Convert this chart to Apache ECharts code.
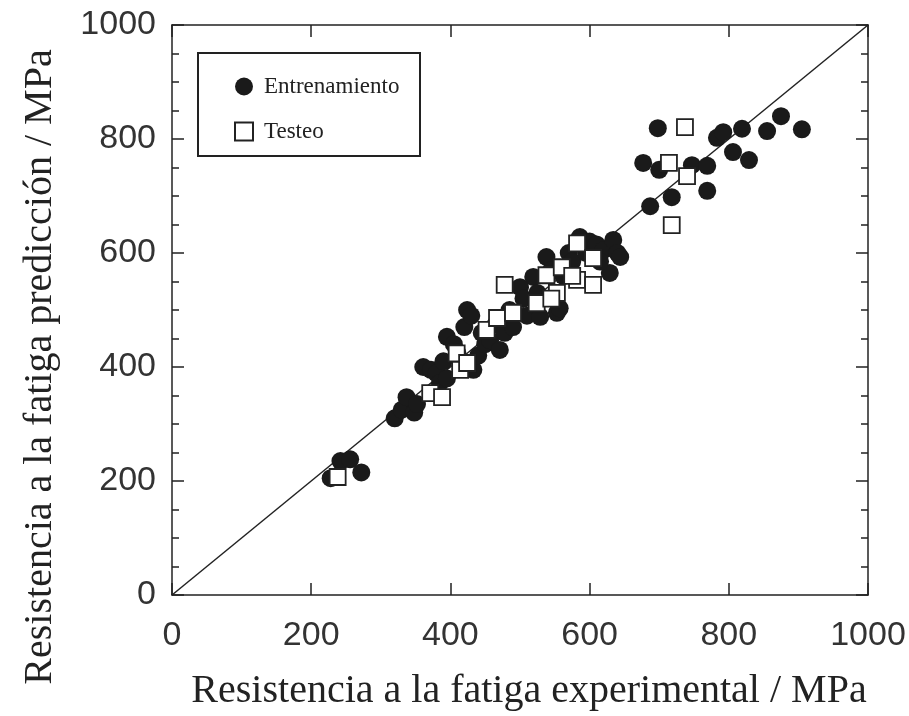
<!DOCTYPE html>
<html>
<head>
<meta charset="utf-8">
<script src="https://cdn.jsdelivr.net/npm/echarts@6/dist/echarts.min.js"></script>
<style>
  html, body { margin: 0; padding: 0; background: #fff; }
  #chart { width: 909px; height: 716px; }
</style>
</head>
<body>
<div id="chart"></div>
<script>
// puntos de entrenamiento [experimental, predicción]
const entrenamiento = [
  [228, 205], [242, 235], [256, 238], [272, 215],
  [320, 310], [330, 325], [337, 347], [348, 320], [352, 335],
  [361, 400], [372, 395], [380, 389], [385, 372], [395, 380], [390, 410],
  [395, 453], [405, 440], [410, 425], [420, 470], [424, 500], [430, 490], [433, 395], [440, 420], [445, 460],
  [450, 440], [457, 447], [465, 475], [471, 430], [478, 460], [485, 500], [490, 470], [500, 540], [505, 520],
  [510, 490], [519, 558], [525, 530], [529, 488],
  [538, 593], [545, 570], [553, 495], [557, 503], [562, 560], [570, 600], [575, 585], [586, 628], [595, 600],
  [600, 620], [610, 615], [620, 605], [629, 565], [634, 623], [640, 600], [644, 593], [615, 585],
  [677, 758], [687, 682], [698, 819], [700, 746], [718, 698], [747, 754], [769, 753], [769, 709],
  [783, 802], [792, 812], [806, 777], [819, 818], [829, 763], [855, 814], [875, 840], [905, 817]
]
// puntos de testeo
const testeo = [
  [238, 207], [371, 354], [388, 347], [409, 424], [414, 395], [424, 407], [452, 465], [467, 486],
  [478, 544], [490, 495], [524, 512], [538, 561], [553, 530], [560, 575], [582, 617], [582, 553],
  [605, 591], [605, 544], [575, 560], [545, 520], [714, 758], [737, 821], [740, 735], [718, 649]
]
const diagonal = [[0, 0], [1000, 1000]]

const labelFont = { fontFamily: 'Liberation Sans', fontSize: 34, color: '#333', formatter: v => String(v) }
const serif = 'Liberation Serif'

const chart = echarts.init(document.getElementById('chart'))

const axisCommon = {
  type: 'value',
  min: 0,
  max: 1000,
  interval: 200,
  splitLine: { show: false },
  axisLine: { show: true, onZero: false, lineStyle: { color: '#222', width: 1.5 } },
  axisTick: { show: true, inside: true, length: 12, lineStyle: { color: '#222', width: 1.5 } }
}

chart.setOption({
  animation: false,
  grid: { left: 172, top: 25, width: 696, height: 570, outerBoundsMode: 'none' },
  graphic: [
    {
      type: 'rect',
      shape: { x: 198, y: 53, width: 222, height: 103 },
      style: { fill: '#fff', stroke: '#222', lineWidth: 2 },
      z: 10
    }
  ],
  legend: {
    orient: 'vertical',
    left: 229,
    top: 70,
    itemWidth: 18,
    itemHeight: 18,
    itemGap: 22,
    z: 20,
    data: ['Entrenamiento', 'Testeo'],
    textStyle: { fontFamily: serif, fontSize: 23, color: '#222', padding: [0, 0, 6, 6] }
  },
  xAxis: [
    Object.assign({}, axisCommon, {
      position: 'bottom',
      name: 'Resistencia a la fatiga experimental / MPa',
      nameLocation: 'middle',
      nameGap: 76,
      nameTextStyle: { fontFamily: serif, fontSize: 40, color: '#222', padding: [0, 0, 0, 18] },
      axisLabel: Object.assign({ margin: 24 }, labelFont)
    }),
    Object.assign({}, axisCommon, {
      position: 'top',
      axisLabel: { show: false }
    })
  ],
  yAxis: [
    Object.assign({}, axisCommon, {
      position: 'left',
      name: 'Resistencia a la fatiga predicción / MPa',
      nameLocation: 'middle',
      nameGap: 112,
      nameTextStyle: { fontFamily: serif, fontSize: 40, color: '#222', padding: [0, 114, 0, 0] },
      minorTick: { show: true, splitNumber: 4, length: 7, lineStyle: { color: '#222', width: 1.5 } },
      axisLabel: Object.assign({ margin: 16 }, labelFont)
    }),
    Object.assign({}, axisCommon, {
      position: 'right',
      minorTick: { show: true, splitNumber: 4, length: 7, lineStyle: { color: '#222', width: 1.5 } },
      axisLabel: { show: false }
    })
  ],
  series: [
    {
      name: 'diagonal',
      type: 'line',
      data: diagonal,
      symbol: 'none',
      silent: true,
      lineStyle: { color: '#222', width: 1.5 },
      z: 1
    },
    {
      name: 'Entrenamiento',
      type: 'scatter',
      data: entrenamiento,
      symbol: 'circle',
      symbolSize: 18,
      itemStyle: { color: '#1a1a1a', opacity: 1 },
      z: 2
    },
    {
      name: 'Testeo',
      type: 'scatter',
      data: testeo,
      symbol: 'rect',
      symbolSize: 16,
      itemStyle: { color: '#fff', borderColor: '#222', borderWidth: 1.8, opacity: 1 },
      z: 3
    }
  ]
})
</script>
</body>
</html>
